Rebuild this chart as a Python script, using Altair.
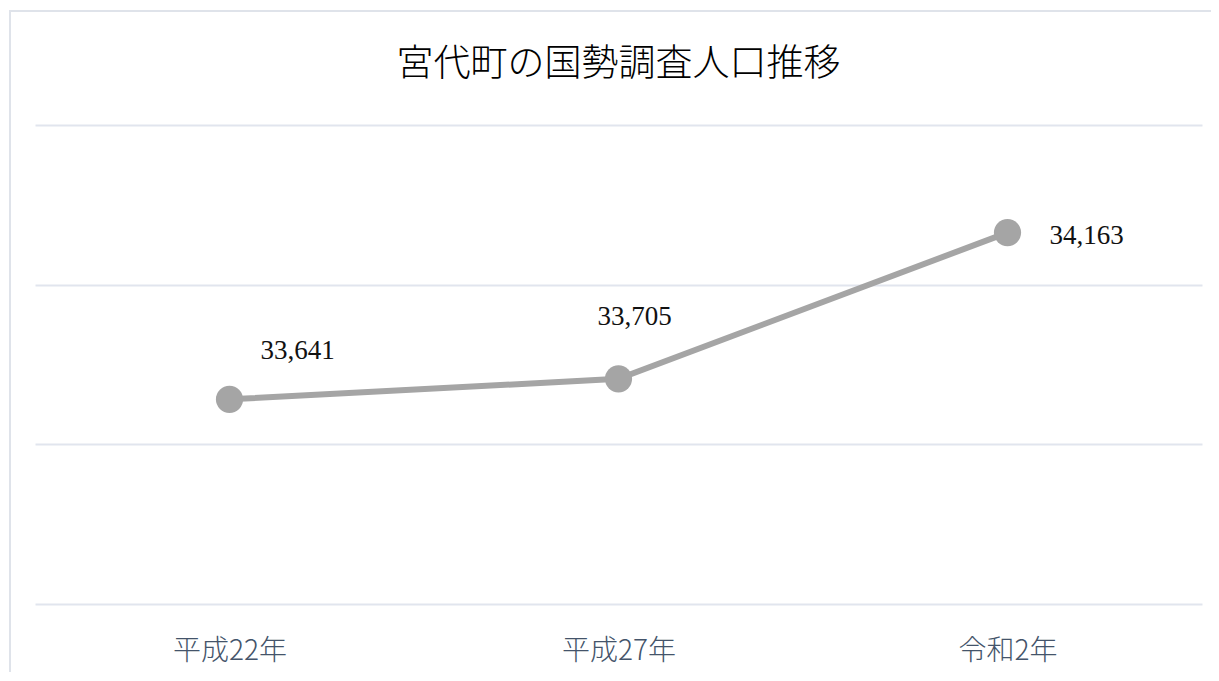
import altair as alt
import pandas as pd

categories = ["平成22年", "平成27年", "令和2年"]
population = [33641, 33705, 34163]
label_texts = ["33,641", "33,705", "34,163"]
y_ticks = [33000, 33500, 34000, 34500]

df = pd.DataFrame({"year": categories, "pop": population, "label": label_texts})

W, H = 1167, 479

x_enc = alt.X("year:N", sort=categories,
              scale=alt.Scale(type="point", padding=0.5),
              axis=alt.Axis(title=None, domain=False, ticks=False, grid=False,
                            labelAngle=0, labelFontSize=28, labelColor="#44546a",
                            labelFont="Noto Sans CJK JP", labelFontWeight=300,
                            labelPadding=33))
y_enc = alt.Y("pop:Q", scale=alt.Scale(domain=[33000, 34500], zero=False, nice=False),
              axis=alt.Axis(title=None, domain=False, ticks=False, labels=False,
                            values=y_ticks, grid=True, gridColor="#e1e5ee", gridWidth=2))

base = alt.Chart(df)

line = base.mark_line(color="#a5a5a5", strokeWidth=6).encode(x=x_enc, y=y_enc)
pts = base.mark_circle(color="#a5a5a5", opacity=1, size=740).encode(x=x_enc, y=y_enc)

offsets = [(68, -48), (16, -62), (79, 3)]
texts = []
for cat, (dx, dy) in zip(categories, offsets):
    texts.append(
        base.transform_filter(alt.datum.year == cat)
        .mark_text(font="Liberation Serif", fontSize=27, color="#111111",
                   dx=dx, dy=dy, align="center", baseline="middle")
        .encode(x=x_enc, y=y_enc, text="label:N")
    )

border = base.mark_rect(filled=False, stroke="#dfe3ea", strokeWidth=2, clip=False).encode(
    x=alt.value(-25), x2=alt.value(1300), y=alt.value(-114), y2=alt.value(700)
)

chart = alt.layer(border, line, pts, *texts).properties(
    width=W, height=H,
    title=alt.TitleParams("宮代町の国勢調査人口推移", font="Noto Sans CJK JP", fontSize=37,
                          fontWeight=300, color="#000000", anchor="middle",
                          offset=40, dy=114),
    autosize=alt.AutoSizeParams(type="none"),
    padding={"left": 27, "top": 117, "right": 9, "bottom": 68},
).configure(background="white").configure_view(strokeWidth=0, stroke="transparent")

chart.save("out.html", embed_options={"renderer": "svg", "actions": False})
